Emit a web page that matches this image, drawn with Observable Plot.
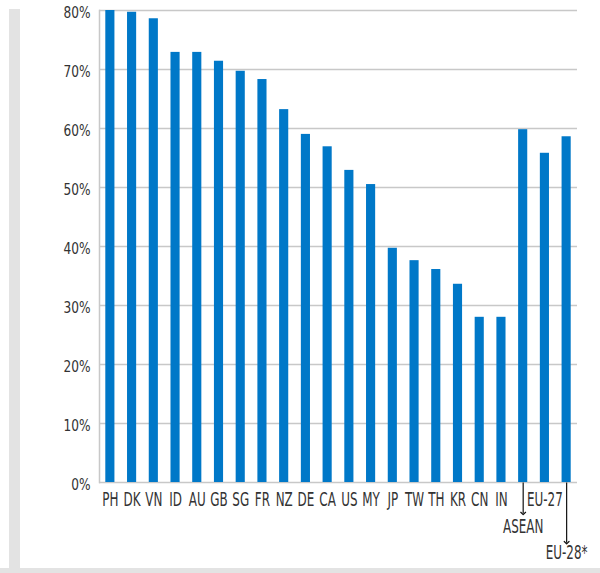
<!DOCTYPE html>
<html>
<head>
<meta charset="utf-8">
<script src="https://cdn.jsdelivr.net/npm/d3@7"></script>
<script src="https://cdn.jsdelivr.net/npm/@observablehq/plot@0.6"></script>
<style>
  html, body { margin: 0; padding: 0; background: #fff; }
  #wrap { position: relative; width: 600px; height: 573px; overflow: hidden; }
  #vstrip { position: absolute; left: 9px; top: 9px; width: 11px; height: 564px; background: #e3e3e3; }
  #hstrip { position: absolute; left: 0; top: 568px; width: 600px; height: 5px; background: #e3e3e3; }
  #chart { position: absolute; left: 0; top: 0; }
</style>
</head>
<body>
<div id="wrap">
  <div id="vstrip"></div>
  <div id="hstrip"></div>
  <div id="chart"></div>
</div>
<script>
const categories = ["PH","DK","VN","ID","AU","GB","SG","FR","NZ","DE","CA","US","MY","JP","TW","TH","KR","CN","IN","ASEAN","EU-27","EU-28*"];
const values = [80,79.7,78.6,72.9,72.9,71.4,69.7,68.3,63.2,59.0,56.9,52.9,50.5,39.7,37.6,36.1,33.6,28.0,28.0,59.8,55.8,58.6];
const yTicks = [0,10,20,30,40,50,60,70,80];
const arrowLabels = ["ASEAN","EU-28*"];

const data = categories.map((c, i) => ({category: c, value: values[i]}));
const FONT = "'DejaVu Sans Condensed', 'DejaVu Sans', sans-serif";
const TEXT = "#333";

const chart = Plot.plot({
  width: 600,
  height: 573,
  marginLeft: 99,
  marginRight: 23,
  marginTop: 10,
  marginBottom: 91,
  style: {fontFamily: FONT, fontSize: "16px", color: TEXT, background: "transparent"},
  x: {domain: categories, paddingInner: 0.58, paddingOuter: 0.29, round: false, label: null},
  y: {domain: [0, 80], label: null},
  marks: [
    Plot.gridY(yTicks, {stroke: "#c8c8c8", strokeOpacity: 1, strokeWidth: 1.5}),
    Plot.frame({anchor: "left", stroke: "#c8c8c8", strokeWidth: 1.5}),
    Plot.barY(data, {x: "category", y: "value", fill: "#0078c8"}),
    Plot.axisY(yTicks, {tickSize: 0, tickPadding: 9, tickFormat: d => d + "%", fill: TEXT, fontSize: 16.5}),
    Plot.axisX({tickSize: 0, tickPadding: 10, tickFormat: d => arrowLabels.includes(d) ? "" : d, fill: TEXT, fontSize: 19}),
    Plot.link(arrowLabels, {
      x1: d => d, x2: d => d,
      y1: 0,
      y2: d => d === "ASEAN" ? -5.25 : -10.2,
      stroke: "#111", strokeWidth: 1.2, markerEnd: "arrow"
    }),
    Plot.text(arrowLabels, {
      x: d => d, y: 0,
      text: d => d,
      fill: TEXT, fontSize: 19,
      lineAnchor: "top"
    })
  ]
});
document.getElementById("chart").appendChild(chart);

const sel = d3.select(chart);
// condensed look: squeeze glyphs horizontally around their anchor
sel.selectAll("g[aria-label='x-axis tick label'] text").each(function() {
  const t = d3.select(this);
  t.attr("transform", (t.attr("transform") || "") + " scale(0.7,1)");
});
sel.selectAll("g[aria-label='y-axis tick label'] text").each(function() {
  const t = d3.select(this);
  t.attr("transform", (t.attr("transform") || "") + " translate(0,2) scale(0.82,1)");
});
// arrow labels sit below the arrow tips
sel.selectAll("g[aria-label='text'] text").each(function(d, i) {
  const off = arrowLabels[i] === "ASEAN" ? 37 : 63;
  const t = d3.select(this);
  t.attr("transform", (t.attr("transform") || "") + ` translate(0,${off}) scale(0.7,1)`);
});
</script>
</body>
</html>
